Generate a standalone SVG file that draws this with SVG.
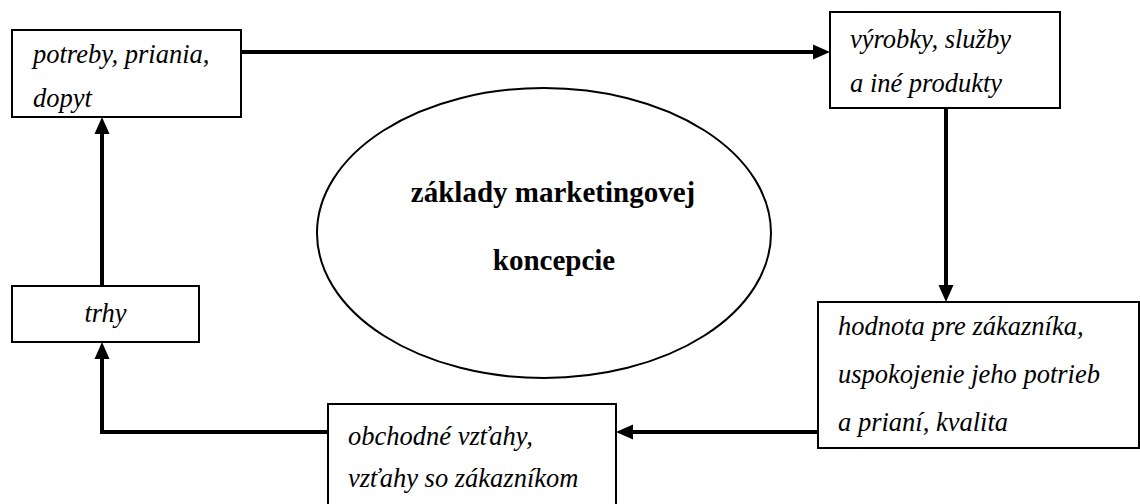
<svg xmlns="http://www.w3.org/2000/svg" width="1140" height="504" viewBox="0 0 1140 504">
<style>
.box{fill:#fff;stroke:#000;stroke-width:2}
.it{font-family:"Liberation Serif","Times New Roman",serif;font-style:italic;font-size:26.5px;fill:#000}
.bd{font-family:"Liberation Serif","Times New Roman",serif;font-weight:bold;font-size:29px;fill:#000;text-anchor:middle}
.con{fill:none;stroke:#000;stroke-width:4;stroke-linejoin:miter;marker-end:url(#ah)}
</style>
<defs>
<marker id="ah" markerUnits="userSpaceOnUse" markerWidth="18" markerHeight="16" viewBox="0 0 18 16" refX="9" refY="8" orient="auto">
<path d="M0,0.5 L17,8 L0,15.5 z" fill="#000"/>
</marker>
</defs>
<rect width="1140" height="504" fill="#fff"/>
<g id="connectors">
<path class="con" d="M241,52 H822"/>
<path class="con" d="M946,108 V294"/>
<path class="con" d="M818,432 H624"/>
<path class="con" d="M328,432 H102 V350"/>
<path class="con" d="M102,286 V125"/>
</g>
<g id="center">
<ellipse cx="544" cy="233" rx="227" ry="145" fill="#fff" stroke="#000" stroke-width="2"/>
<text class="bd" x="553" y="202">základy marketingovej</text>
<text class="bd" x="554" y="270">koncepcie</text>
</g>
<g id="potreby">
<rect class="box" x="12" y="30" width="229" height="87"/>
<text class="it" x="33" y="63">potreby, priania,</text>
<text class="it" x="33" y="107">dopyt</text>
</g>
<g id="vyrobky">
<rect class="box" x="830" y="12" width="230" height="96"/>
<text class="it" x="850" y="48">výrobky, služby</text>
<text class="it" x="850" y="92">a iné produkty</text>
</g>
<g id="hodnota">
<rect class="box" x="818" y="302" width="321" height="146"/>
<text class="it" x="838" y="335">hodnota pre zákazníka,</text>
<text class="it" x="838" y="383">uspokojenie jeho potrieb</text>
<text class="it" x="838" y="431">a prianí, kvalita</text>
</g>
<g id="vztahy">
<rect class="box" x="328" y="404" width="288" height="110"/>
<text class="it" x="348" y="445">obchodné vzťahy,</text>
<text class="it" x="348" y="487">vzťahy so zákazníkom</text>
</g>
<g id="trhy">
<rect class="box" x="12" y="286" width="187" height="56"/>
<text class="it" x="105.5" y="322" text-anchor="middle">trhy</text>
</g>
</svg>
